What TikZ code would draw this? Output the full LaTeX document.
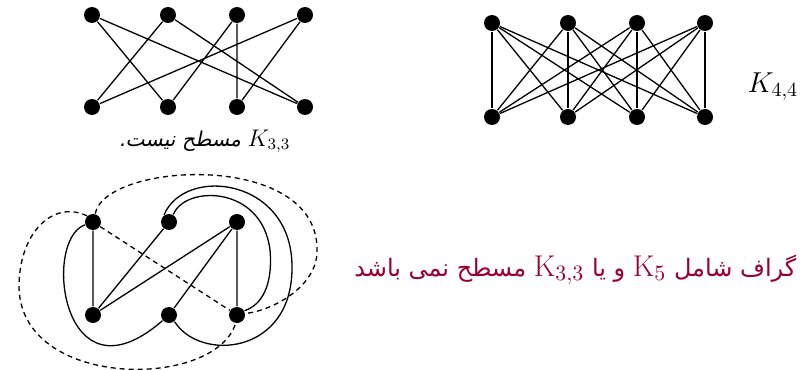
\documentclass[tikz,border=0pt]{standalone}
\usepackage{fontspec}
\usepackage{xcolor}
\usepackage{tikz}
\definecolor{planRed}{HTML}{990033}
\newfontfamily\persfont[Script=Arabic,Scale=0.8]{DejaVu Sans}
\newfontfamily\persslant[Script=Arabic,Scale=0.85,FakeSlant=0.2]{DejaVu Sans}
\TeXXeTstate=1

\begin{document}
\begin{tikzpicture}[x=0.5pt, y=-0.5pt, line width=0.65pt,
  vtx/.style={circle, fill, inner sep=0pt, minimum size=8pt},
  dashline/.style={dash pattern=on 2.5pt off 2pt}]
\useasboundingbox (0,0) rectangle (807,369);
% --- K_{3,3} drawn with crossings (top left) ---
\node[vtx] (a1) at (92,15) {};
\node[vtx] (a2) at (168,15) {};
\node[vtx] (a3) at (237,15) {};
\node[vtx] (a4) at (305,15) {};
\node[vtx] (b1) at (92,107) {};
\node[vtx] (b2) at (168,107) {};
\node[vtx] (b3) at (237,107) {};
\node[vtx] (b4) at (305,107) {};
\draw (a1) -- (b2) (a1) -- (b4)
      (a2) -- (b1) (a2) -- (b4)
      (a3) -- (b2) (a3) -- (b3)
      (a4) -- (b1) (a4) -- (b3);
\node[anchor=base east, inner sep=0pt] (cap33) at (291,146)
  {\persslant\fontsize{12}{14}\selectfont\beginR\beginL$K_{3,3}$\endL{} مسطح نیست.\endR};
% --- K_{4,4} (top right) ---
\foreach \i/\x in {1/492,2/568,3/637,4/705} {
  \node[vtx] (p\i) at (\x,23) {};
  \node[vtx] (q\i) at (\x,117) {};
}
\foreach \i in {1,...,4}
  \foreach \j in {1,...,4}
    \draw (p\i) -- (q\j);
\node[anchor=base west, inner sep=0pt] (k44) at (747,92) {\fontsize{14.6}{17}\selectfont$K_{4,4}$};
% --- bottom graph ---
\node[vtx] (x1) at (93,222) {};
\node[vtx] (x2) at (169,222) {};
\node[vtx] (x3) at (237,222) {};
\node[vtx] (y1) at (93,315) {};
\node[vtx] (y2) at (169,315) {};
\node[vtx] (y3) at (237,315) {};
\draw (x1) -- (y1) (x2) -- (y1) (x3) -- (y1) (x3) -- (y2) (x3) -- (y3);
\draw[dashline] (x1) -- (y3);
% solid curves
\draw (x1) .. controls (42,240) and (62,408) .. (y2);
\draw (y2.-50) .. controls (200,362) and (292,355) .. (292,268)
      .. controls (293,178) and (185,165) .. (x2.125);
\draw (x2.60) .. controls (185,185) and (262,185) .. (270,250)
      .. controls (273,285) and (262,305) .. (y3.30);
% dashed curves
\draw[dashline] (x1.75) .. controls (105,162) and (318,150) .. (317,250)
      .. controls (318,285) and (275,310) .. (y3.10);
\draw[dashline] (x1.135) .. controls (55,200) and (20,230) .. (19,285)
      .. controls (18,390) and (215,390) .. (y3.-100);
% --- statement ---
\node[anchor=base east, inner sep=0pt, text=planRed] (claim) at (797,276)
  {\persfont\fontsize{15}{18}\selectfont\beginR گراف شامل \beginL$\mathrm{K}_5$\endL{} و یا \beginL$\mathrm{K}_{3,3}$\endL{} مسطح نمی باشد\endR};
\end{tikzpicture}
\end{document}
